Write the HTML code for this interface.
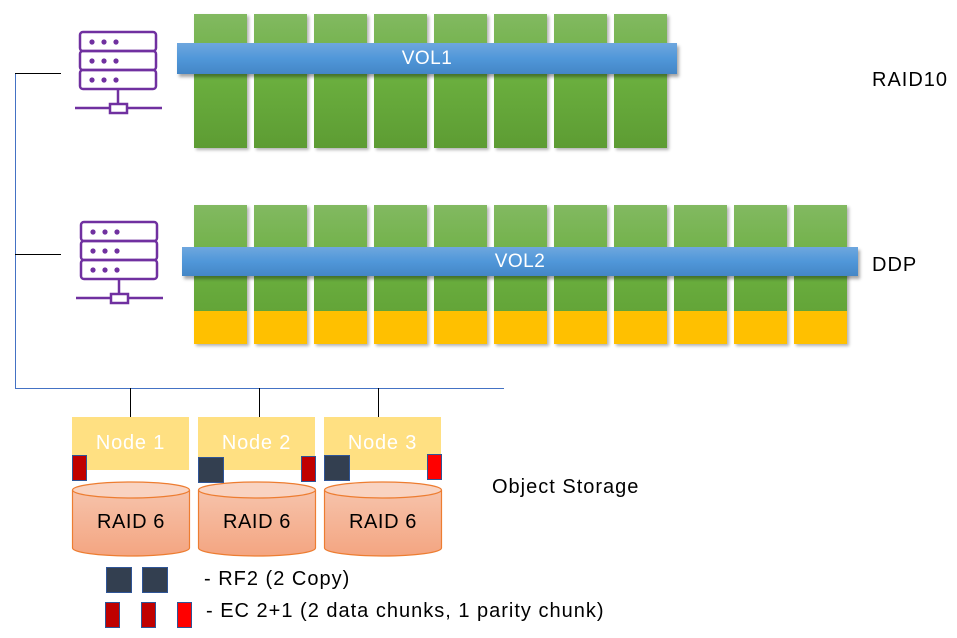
<!DOCTYPE html>
<html><head><meta charset="utf-8"><style>
body{margin:0;width:957px;height:638px;background:#fff;position:relative;overflow:hidden;font-family:"Liberation Sans","DejaVu Sans",sans-serif}
.a{position:absolute}
.col{position:absolute;width:53px;background:linear-gradient(#82b961,#6aae3e 50%,#5d9c33);box-shadow:2px 2px 3px rgba(0,0,0,.3)}
.yel{position:absolute;left:0;right:0;bottom:0;height:33px;background:#ffc000}
.bar{position:absolute;background:linear-gradient(#6ea7de,#5097d9 50%,#4486c6);box-shadow:2px 3px 3px rgba(0,0,0,.35);color:#fff;font-size:19px;text-align:center;letter-spacing:.5px}
.node{position:absolute;width:117px;height:53px;top:417px;background:#ffe082;color:#fff;font-size:20px;text-align:center;line-height:53px;letter-spacing:.8px}
.lbl{position:absolute;font-size:20px;color:#000;letter-spacing:1px;white-space:nowrap}
.sq{position:absolute;border:1.5px solid #2f5597;box-sizing:border-box}
</style></head><body>
<div class="a" style="left:15px;top:73px;width:1px;height:316px;background:#4472c4"></div>
<div class="a" style="left:15px;top:73px;width:46px;height:1px;background:#000"></div>
<div class="a" style="left:15px;top:254px;width:46px;height:1px;background:#000"></div>
<div class="a" style="left:15px;top:388px;width:489px;height:1px;background:#4472c4"></div>
<div class="a" style="left:130px;top:388px;width:1px;height:29px;background:#000"></div>
<div class="a" style="left:259px;top:388px;width:1px;height:29px;background:#000"></div>
<div class="a" style="left:378px;top:388px;width:1px;height:29px;background:#000"></div>

<svg class="a" style="left:70px;top:28px" width="100" height="90" viewBox="0 0 100 90">
<g fill="none" stroke="#7030a0" stroke-width="2.5">
<rect x="10" y="4" width="76" height="19" rx="3"/><rect x="10" y="23" width="76" height="19" rx="3"/><rect x="10" y="42" width="76" height="19" rx="3"/>
<line x1="48" y1="61" x2="48" y2="76"/><rect x="40" y="76" width="17" height="9"/><line x1="5" y1="80" x2="40" y2="80"/><line x1="57" y1="80" x2="92" y2="80"/></g>
<g fill="#7030a0"><circle cx="22" cy="14" r="2.6"/><circle cx="34" cy="14" r="2.6"/><circle cx="46" cy="14" r="2.6"/><circle cx="22" cy="33" r="2.6"/><circle cx="34" cy="33" r="2.6"/><circle cx="46" cy="33" r="2.6"/><circle cx="22" cy="52" r="2.6"/><circle cx="34" cy="52" r="2.6"/><circle cx="46" cy="52" r="2.6"/></g></svg>
<svg class="a" style="left:71px;top:218px" width="100" height="90" viewBox="0 0 100 90">
<g fill="none" stroke="#7030a0" stroke-width="2.5">
<rect x="10" y="4" width="76" height="19" rx="3"/><rect x="10" y="23" width="76" height="19" rx="3"/><rect x="10" y="42" width="76" height="19" rx="3"/>
<line x1="48" y1="61" x2="48" y2="76"/><rect x="40" y="76" width="17" height="9"/><line x1="5" y1="80" x2="40" y2="80"/><line x1="57" y1="80" x2="92" y2="80"/></g>
<g fill="#7030a0"><circle cx="22" cy="14" r="2.6"/><circle cx="34" cy="14" r="2.6"/><circle cx="46" cy="14" r="2.6"/><circle cx="22" cy="33" r="2.6"/><circle cx="34" cy="33" r="2.6"/><circle cx="46" cy="33" r="2.6"/><circle cx="22" cy="52" r="2.6"/><circle cx="34" cy="52" r="2.6"/><circle cx="46" cy="52" r="2.6"/></g></svg>

<div class="col" style="left:194px;top:14px;height:134px"></div>
<div class="col" style="left:254px;top:14px;height:134px"></div>
<div class="col" style="left:314px;top:14px;height:134px"></div>
<div class="col" style="left:374px;top:14px;height:134px"></div>
<div class="col" style="left:434px;top:14px;height:134px"></div>
<div class="col" style="left:494px;top:14px;height:134px"></div>
<div class="col" style="left:554px;top:14px;height:134px"></div>
<div class="col" style="left:614px;top:14px;height:134px"></div>
<div class="bar" style="left:177px;top:43px;width:500px;height:31px;line-height:31px">VOL1</div>
<div class="lbl" style="left:872px;top:69px">RAID10</div>

<div class="col" style="left:194px;top:205px;height:139px"><div class="yel"></div></div>
<div class="col" style="left:254px;top:205px;height:139px"><div class="yel"></div></div>
<div class="col" style="left:314px;top:205px;height:139px"><div class="yel"></div></div>
<div class="col" style="left:374px;top:205px;height:139px"><div class="yel"></div></div>
<div class="col" style="left:434px;top:205px;height:139px"><div class="yel"></div></div>
<div class="col" style="left:494px;top:205px;height:139px"><div class="yel"></div></div>
<div class="col" style="left:554px;top:205px;height:139px"><div class="yel"></div></div>
<div class="col" style="left:614px;top:205px;height:139px"><div class="yel"></div></div>
<div class="col" style="left:674px;top:205px;height:139px"><div class="yel"></div></div>
<div class="col" style="left:734px;top:205px;height:139px"><div class="yel"></div></div>
<div class="col" style="left:794px;top:205px;height:139px"><div class="yel"></div></div>
<div class="bar" style="left:182px;top:247px;width:676px;height:29px;line-height:29px">VOL2</div>
<div class="lbl" style="left:872px;top:254px">DDP</div>

<div class="node" style="left:72px">Node 1</div>
<div class="node" style="left:198px">Node 2</div>
<div class="node" style="left:324px">Node 3</div>

<svg class="a" style="left:0;top:470px" width="460" height="90">
<defs><linearGradient id="g" x1="0" y1="0" x2="0" y2="1"><stop offset="0" stop-color="#f6c3ab"/><stop offset="1" stop-color="#f4a581"/></linearGradient></defs>
<g stroke="#ed7d31" stroke-width="1.2">
<path d="M72.5 20 v58 a58.5 8 0 0 0 117 0 v-58" fill="url(#g)"/><ellipse cx="131" cy="20" rx="58.5" ry="8" fill="#f9d3c1"/>
<path d="M198.5 20 v58 a58.5 8 0 0 0 117 0 v-58" fill="url(#g)"/><ellipse cx="257" cy="20" rx="58.5" ry="8" fill="#f9d3c1"/>
<path d="M324.5 20 v58 a58.5 8 0 0 0 117 0 v-58" fill="url(#g)"/><ellipse cx="383" cy="20" rx="58.5" ry="8" fill="#f9d3c1"/>
</g>
<g font-size="20" text-anchor="middle" fill="#000" font-family="Liberation Sans, sans-serif" letter-spacing="0.6">
<text x="131" y="58">RAID 6</text><text x="257" y="58">RAID 6</text><text x="383" y="58">RAID 6</text></g>
</svg>

<div class="sq" style="left:72px;top:455px;width:15px;height:26px;background:#c00000"></div>
<div class="sq" style="left:198px;top:457px;width:26px;height:26px;background:#333f50"></div>
<div class="sq" style="left:301px;top:456px;width:15px;height:26px;background:#c00000"></div>
<div class="sq" style="left:324px;top:455px;width:26px;height:26px;background:#333f50"></div>
<div class="sq" style="left:427px;top:454px;width:15px;height:26px;background:#ff0000"></div>

<div class="lbl" style="left:492px;top:476px">Object Storage</div>

<div class="sq" style="left:106px;top:567px;width:26px;height:26px;background:#333f50"></div>
<div class="sq" style="left:142px;top:567px;width:26px;height:26px;background:#333f50"></div>
<div class="sq" style="left:105px;top:602px;width:15px;height:26px;background:#c00000"></div>
<div class="sq" style="left:141px;top:602px;width:15px;height:26px;background:#c00000"></div>
<div class="sq" style="left:177px;top:602px;width:15px;height:26px;background:#ff0000"></div>
<div class="lbl" style="left:204px;top:568px">- RF2 (2 Copy)</div>
<div class="lbl" style="left:206px;top:600px">- EC 2+1 (2 data chunks, 1 parity chunk)</div>
</body></html>
